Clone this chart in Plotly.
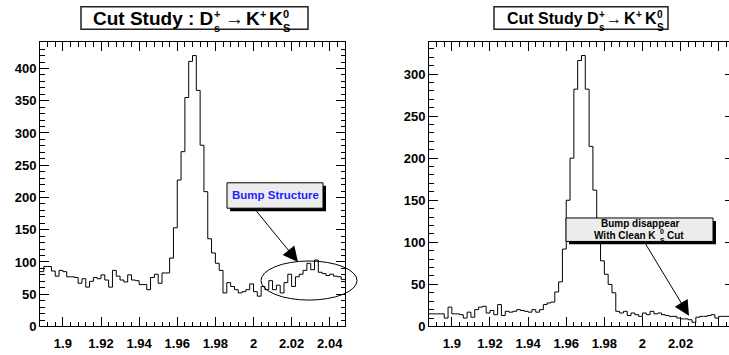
import plotly.graph_objects as go

# ---------------- data ----------------
bin_low = 1.888
bin_width = 0.002
n_bins = 80
bin_edges = [round(bin_low + bin_width * i, 4) for i in range(n_bins + 1)]

left_counts = [
    85, 93, 93, 86, 78, 87, 85, 77, 77, 76,
    67, 74, 61, 70, 76, 74, 80, 72, 61, 87,
    78, 72, 69, 80, 72, 71, 65, 65, 57, 76,
    81, 67, 83, 83, 106, 153, 227, 271, 355, 411,
    420, 366, 281, 209, 136, 114, 98, 87, 52, 68,
    62, 57, 52, 54, 57, 66, 54, 47, 62, 57,
    71, 57, 64, 52, 68, 81, 62, 77, 81, 87,
    98, 88, 103, 84, 82, 79, 81, 78, 77, 73,
]

right_counts = [
    15, 15, 15, 15, 10, 23, 15, 15, 14, 10,
    17, 11, 20, 23, 24, 16, 19, 14, 26, 13,
    18, 17, 18, 20, 19, 18, 17, 20, 17, 20,
    26, 28, 29, 41, 53, 92, 150, 200, 282, 316,
    322, 282, 214, 162, 103, 78, 62, 50, 40, 18,
    16, 18, 13, 16, 14, 12, 16, 14, 18, 15,
    16, 14, 13, 12, 12, 10, 9, 9, 8, 5,
    11, 12, 12, 13, 14, 10, 12, 12, 12, 12,
]

x_tick_vals = [1.9, 1.92, 1.94, 1.96, 1.98, 2.0, 2.02, 2.04]
x_tick_text = ["1.9", "1.92", "1.94", "1.96", "1.98", "2", "2.02", "2.04"]
left_y_ticks = [0, 50, 100, 150, 200, 250, 300, 350, 400]
right_y_ticks = [0, 50, 100, 150, 200, 250, 300]

left_title_main = "Cut Study : D"
right_title_main = "Cut Study D"
left_note = "Bump Structure"
right_note_line1 = "Bump disappear"
right_note_line2 = "With Clean K"
right_note_tail = "Cut"

# ---------------- layout helpers ----------------
W, H = 729, 355


def fx(px):
    return px / W


def fy(py):
    return 1 - py / H


FONT = "Liberation Sans, Arial, Helvetica, sans-serif"
tickfont = dict(family=FONT, size=13, color="black", weight="bold")

fig = go.Figure()

fig.add_trace(go.Scatter(
    x=bin_edges, y=left_counts + [left_counts[-1]],
    mode="lines", line=dict(shape="hv", color="black", width=1),
    xaxis="x", yaxis="y", showlegend=False, hoverinfo="skip"))

fig.add_trace(go.Scatter(
    x=bin_edges, y=right_counts + [right_counts[-1]],
    mode="lines", line=dict(shape="hv", color="black", width=1),
    xaxis="x2", yaxis="y2", showlegend=False, hoverinfo="skip"))

common_x = dict(
    showline=True, linecolor="black", linewidth=1, mirror="ticks",
    ticks="inside", ticklen=9, tickwidth=1, tickcolor="black",
    tickvals=x_tick_vals, ticktext=x_tick_text, tickfont=tickfont,
    ticklabelstandoff=5,
    minor=dict(tickmode="linear", tick0=1.9, dtick=0.004, ticks="inside",
               ticklen=4.5, tickwidth=1, tickcolor="black", showgrid=False),
    showgrid=False, zeroline=False, fixedrange=True,
)
common_y = dict(
    showline=True, linecolor="black", linewidth=1,
    ticks="inside", ticklen=9, tickwidth=1, tickcolor="black", tickfont=tickfont,
    minor=dict(tickmode="linear", tick0=0, dtick=10, ticks="inside",
               ticklen=4.5, tickwidth=1, tickcolor="black", showgrid=False),
    showgrid=False, zeroline=False, fixedrange=True,
)

y_dom = [fy(334), fy(43)]
right_x_range = [1.888, 1.888 + 300 / 1906.0]

fig.update_layout(
    width=W, height=H,
    margin=dict(l=0, r=0, t=0, b=0),
    paper_bgcolor="white", plot_bgcolor="white",
    xaxis=dict(domain=[fx(40), fx(345)], range=[1.888, 2.048], anchor="y", **common_x),
    yaxis=dict(domain=y_dom, range=[0, 441], anchor="x", mirror="ticks",
               tickvals=left_y_ticks, ticktext=[str(v) for v in left_y_ticks], **common_y),
    xaxis2=dict(domain=[fx(429), 1.0], range=right_x_range, anchor="y2", **common_x),
    yaxis2=dict(domain=y_dom, range=[0, 338], anchor="x2", mirror=False,
                tickvals=right_y_ticks, ticktext=[str(v) for v in right_y_ticks], **common_y),
    # the right frame of the second pad lies just outside the picture: only tick stubs show
    yaxis3=dict(domain=y_dom, range=[0, 338], overlaying="y2", anchor="x2", side="right",
                showline=False, ticks="inside", ticklen=4, tickwidth=1, tickcolor="black",
                tickvals=right_y_ticks, showticklabels=False, showgrid=False,
                zeroline=False, fixedrange=True),
)
# invisible trace so yaxis3 is drawn
fig.add_trace(go.Scatter(x=[right_x_range[0]], y=[0], xaxis="x2", yaxis="y3",
                         mode="markers", marker=dict(opacity=0), showlegend=False,
                         hoverinfo="skip"))

shapes = []
annotations = []


def add_text(txt, x, y, size, anchor="left", color="black"):
    annotations.append(dict(xref="paper", yref="paper", x=fx(x), y=fy(y), text=txt,
                            showarrow=False, xanchor=anchor, yanchor="middle", borderpad=0,
                            align="left" if anchor == "left" else "center",
                            font=dict(family=FONT, size=size, color=color, weight="bold")))


# title boxes
for (x0, x1) in [(81, 308), (494, 668)]:
    shapes.append(dict(type="rect", xref="paper", yref="paper",
                       x0=fx(x0), x1=fx(x1), y0=fy(30), y1=fy(7),
                       line=dict(color="#222222", width=1.5), fillcolor="white", layer="above"))

# left title with stacked sub/superscripts
F, f = 19, 11
add_text(left_title_main, 92, 18.5, F)
add_text("+<br>s", 213, 21.5, f)
add_text("\u2192", 234.5, 18.5, F, anchor="center")
add_text("K", 245, 18.5, F)
add_text("+", 259, 14, f)
add_text("K", 268, 18.5, F)
add_text("0<br>S", 282, 21.5, f)

# right title
F, f = 16, 10
add_text(right_title_main, 506, 18.5, F)
add_text("+<br>s", 598, 21.5, f)
add_text("\u2192", 614, 18.5, F, anchor="center")
add_text("K", 623, 18.5, F)
add_text("+", 635, 14.5, f)
add_text("K", 644, 18.5, F)
add_text("0<br>S", 656, 21.5, f)

# note boxes with shadows
for (x0, y0, x1, y1) in [(227, 187, 323, 213), (566, 223, 713, 247)]:
    shapes.append(dict(type="rect", xref="paper", yref="paper",
                       x0=fx(x0 + 3), x1=fx(x1 + 3), y0=fy(y1 + 3), y1=fy(y0 + 3),
                       line=dict(width=0), fillcolor="black", layer="above"))
    shapes.append(dict(type="rect", xref="paper", yref="paper",
                       x0=fx(x0), x1=fx(x1), y0=fy(y1), y1=fy(y0),
                       line=dict(color="black", width=1), fillcolor="#ececec", layer="above"))

add_text(left_note, 275, 200, 11.5, anchor="center", color="#1f1fff")
add_text(right_note_line1, 639.5, 229, 10, anchor="center")
add_text(right_note_line2, 593, 241, 10)
add_text("0<br>S", 658.5, 241, 7)
add_text(right_note_tail, 665.5, 241, 10)

# ellipse around bump
shapes.append(dict(type="circle", xref="paper", yref="paper",
                   x0=fx(261), x1=fx(357), y0=fy(307), y1=fy(267),
                   line=dict(color="black", width=1), layer="above"))

# arrows
for (sx, sy, tx, ty) in [(253, 213, 298, 268), (643, 247, 689, 323)]:
    annotations.append(dict(xref="paper", yref="paper", x=fx(tx), y=fy(ty),
                            axref="pixel", ayref="pixel", ax=sx - tx, ay=sy - ty,
                            text="", showarrow=True, arrowhead=2, arrowsize=3,
                            arrowwidth=1, arrowcolor="black", standoff=0))

fig.update_layout(shapes=shapes, annotations=annotations)

fig.write_html("out.html")
